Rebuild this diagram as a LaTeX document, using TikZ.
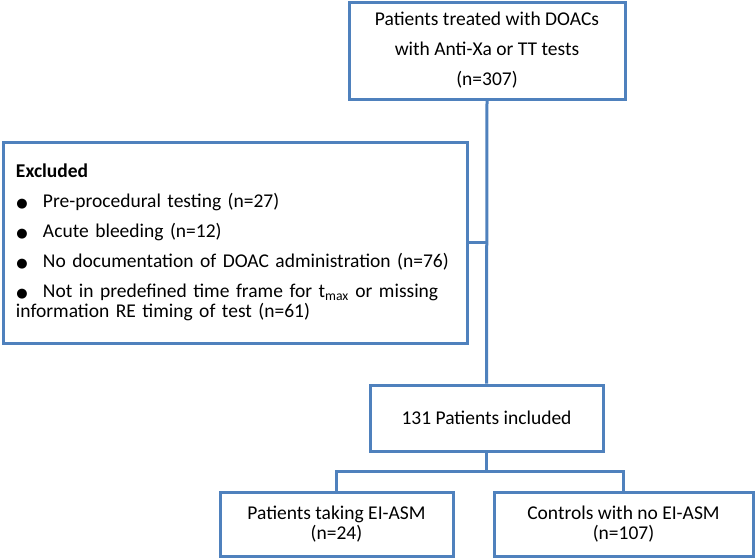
\documentclass[tikz,border=0pt]{standalone}
\usepackage{fontspec}
\setmainfont{Carlito}
\newfontfamily\dejavu{DejaVu Sans}
\definecolor{boxblue}{HTML}{4F81BD}
\newcommand{\bul}{\makebox[27pt][l]{\hspace{0.5pt}{\dejavu\fontsize{13}{13}\selectfont ●}}}
\begin{document}
\begin{tikzpicture}[x=1pt,y=-1pt,
  box/.style={draw=boxblue, line width=3pt, inner sep=0pt, align=center},
  conn/.style={draw=boxblue, line width=3pt},
  font=\fontsize{19.5}{20.5}\selectfont]
\useasboundingbox (0,0) rectangle (755,558);
\node[box, minimum width=276pt, minimum height=97pt] (top) at (487,50.5)
  {Patients treated with DOACs\\[9.5pt] with Anti-Xa or TT tests\\[9.5pt] (n=307)};
\node[box, minimum width=464pt, minimum height=201pt, inner xsep=13pt, text width=438pt, align=left] (excl) at (235,242.5)
  {\textbf{Excluded}\\[9.5pt]
   \bul Pre-procedural testing (n=27)\\[9.5pt]
   \bul Acute bleeding (n=12)\\[9.5pt]
   \bul No documentation of DOAC administration (n=76)\\[9.5pt]
   \bul Not in predefined time frame for t\textsubscript{max} or missing\\
   information RE timing of test (n=61)};
\node[box, minimum width=233pt, minimum height=66pt] (incl) at (486.5,418) {131 Patients included};
\node[box, minimum width=233pt, minimum height=64pt] (left) at (336.5,524) {Patients taking EI-ASM\\ (n=24)};
\node[box, minimum width=259pt, minimum height=64pt] (right) at (623.5,524) {Controls with no EI-ASM\\ (n=107)};
\coordinate (split) at (486.5,471);
\draw[conn] (top.south) -- (incl.north);
\draw[conn] (excl.east) -- (excl.east -| top.south);
\draw[conn] (incl.south) -- (split);
\draw[conn] (left.north) |- (split) -| (right.north);
\end{tikzpicture}
\end{document}
